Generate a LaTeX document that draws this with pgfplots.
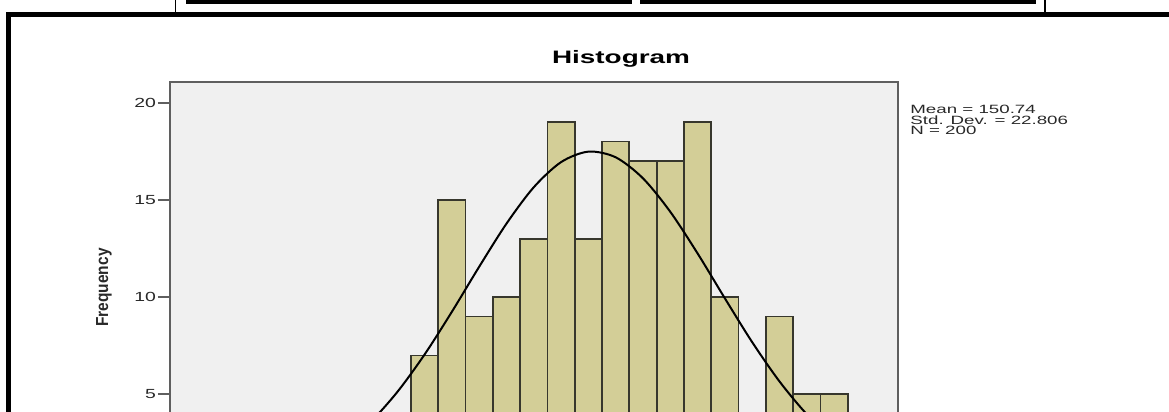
\documentclass[border=0pt]{standalone}
\usepackage{pgfplots}
\pgfplotsset{compat=1.18}
\usepackage{graphicx}
\usepackage{fontspec}
\setmainfont{Liberation Sans}
\definecolor{barfill}{RGB}{211,206,151}
\definecolor{barline}{RGB}{55,55,45}
\definecolor{bggray}{RGB}{240,240,240}
\definecolor{axisgray}{RGB}{95,95,95}
\definecolor{txt}{RGB}{40,40,40}
\begin{document}
\begin{tikzpicture}
\useasboundingbox (0,0) rectangle (584.5pt,-206pt);
% frame of the surrounding document table
\fill[black] (93pt,0) rectangle (316pt,-2pt);
\fill[black] (320pt,0) rectangle (518pt,-2pt);
\draw[line width=0.8pt] (87.75pt,1pt) -- (87.75pt,-6pt);
\draw[line width=0.8pt] (522.5pt,1pt) -- (522.5pt,-6pt);
\draw[line width=2.5pt, line join=miter] (4.25pt,-215pt) -- (4.25pt,-7.25pt) -- (595pt,-7.25pt);
\begin{axis}[
  at={(85pt,-41.15pt)}, anchor=north west,
  scale only axis, width=364pt, height=170.6pt,
  xmin=73.36, xmax=206.7, ymin=3.5, ymax=21.05,
  xtick=\empty, ytick={5,10,15,20}, ytick pos=left,
  tick align=outside, major tick length=6pt,
  tick style={draw=axisgray, line width=1pt},
  axis line style={draw=axisgray, line width=1.15pt},
  axis background/.style={fill=bggray},
  yticklabel={\scalebox{1.47}[1]{\pgfmathprintnumber[assume math mode=true]{\tick}}},
  yticklabel style={font=\fontsize{6.6}{7}\selectfont, text=txt, inner sep=0.8pt},
  title={\scalebox{1.55}[1]{\fontsize{9}{10}\selectfont\bfseries Histogram}},
  title style={at={(axis description cs:0.6195,1)}, anchor=base, yshift=3.65pt, inner sep=0pt},
]
\addplot[ybar interval, fill=barfill, draw=barline, line width=0.9pt] coordinates {
 (82.5,1) (87.5,0) (92.5,1) (97.5,1) (102.5,2) (107.5,3) (112.5,3)
 (117.5,7) (122.5,15) (127.5,9) (132.5,10) (137.5,13) (142.5,19)
 (147.5,13) (152.5,18) (157.5,17) (162.5,17) (167.5,19) (172.5,10)
 (177.5,3) (182.5,9) (187.5,5) (192.5,5) (197.5,0)
};
\addplot[black, line width=1pt, smooth, mark=none] coordinates {
 (90,0.51) (95,0.89) (100,1.472) (105,2.341) (110,3.548) (115,5.124) (120,7.053)
 (125,9.252) (130,11.568) (135,13.785) (140,15.656) (145,16.947)
 (150,17.484) (155,17.191) (160,16.109) (165,14.386)
 (170,12.245) (175,9.934) (180,7.681) (185,5.661) (190,3.975)
 (195,2.661) (200,1.697) (205,1.03)
};
\end{axis}
\node[anchor=north west, inner sep=0pt, align=left, text=txt, font=\fontsize{6}{5.4}\selectfont] at (455pt,-52.3pt)
 {\scalebox{1.56}[1]{Mean = 150.74}\\\scalebox{1.56}[1]{Std. Dev. = 22.806}\\\scalebox{1.56}[1]{N = 200}};
\node[rotate=90, inner sep=0pt, text=txt, font=\fontsize{6.45}{7}\selectfont\bfseries] at (52pt,-143.75pt)
 {\scalebox{1.2}[1.35]{Frequency}};
\end{tikzpicture}
\end{document}
